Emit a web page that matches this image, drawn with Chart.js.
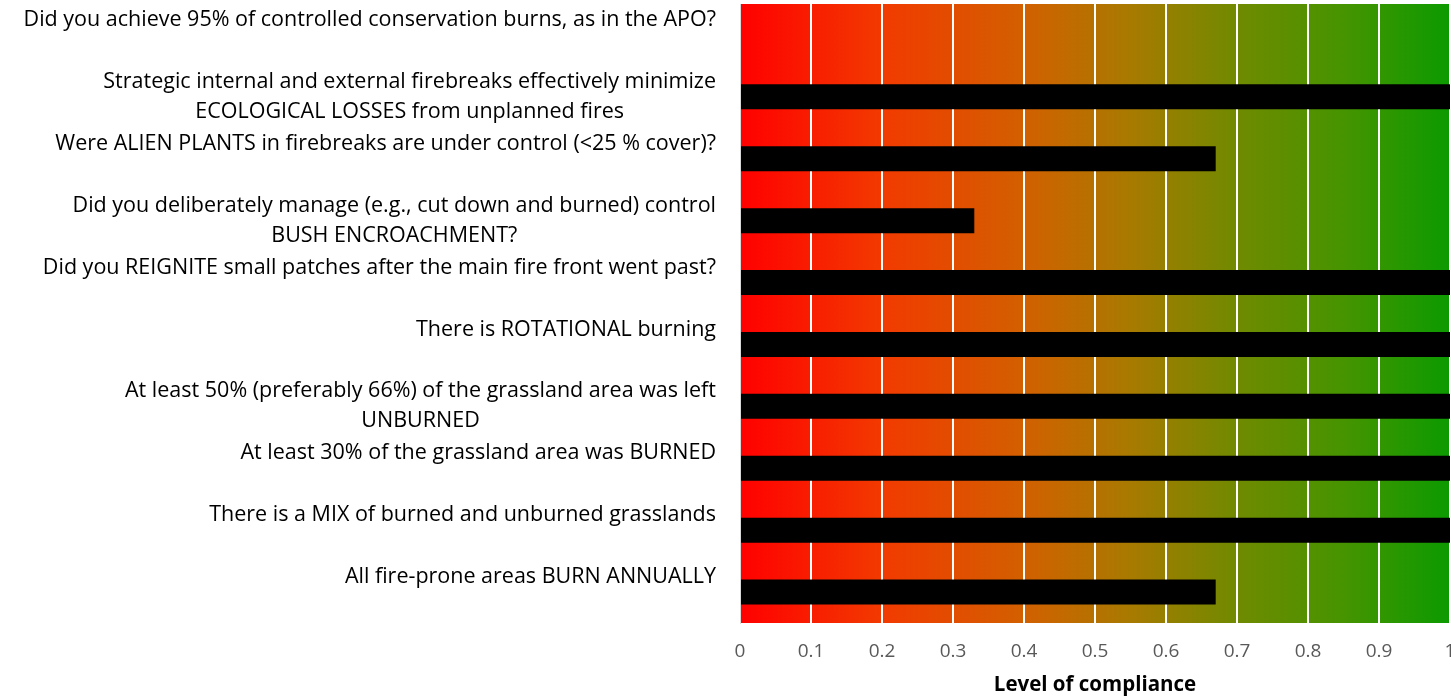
<!DOCTYPE html>
<html>
<head>
<meta charset="utf-8">
<script src="https://cdn.jsdelivr.net/npm/chart.js@4.4.1/dist/chart.umd.min.js"></script>
<style>
html, body { margin: 0; padding: 0; background: #fff; }
#wrap { width: 1451px; height: 698px; }
</style>
</head>
<body>
<div id="wrap"><canvas id="myChart"></canvas></div>
<script>
// categories (one line labels get an empty 2nd line, like the original)
const questions = [
    ["Did you achieve 95% of controlled conservation burns, as in the APO?", ""],
    ["Strategic internal and external firebreaks effectively minimize", "ECOLOGICAL LOSSES from unplanned fires"],
    ["Were ALIEN PLANTS in firebreaks are under control (<25 % cover)?", ""],
    ["Did you deliberately manage (e.g., cut down and burned) control", "BUSH ENCROACHMENT?"],
    ["Did you REIGNITE small patches after the main fire front went past?", ""],
    ["There is ROTATIONAL burning", ""],
    ["At least 50% (preferably 66%) of the grassland area was left", "UNBURNED"],
    ["At least 30% of the grassland area was BURNED", ""],
    ["There is a MIX of burned and unburned grasslands", ""],
    ["All fire-prone areas BURN ANNUALLY", ""]
];
const compliance = [0, 1, 0.67, 0.33, 1, 1, 1, 1, 1, 0.67];
const xMin = 0;
const xMax = 1;
const xStep = 0.1;
const xTitle = "Level of compliance";

const labelFont = '21.5px "Open Sans"';

// red -> green background behind the bars
const gradientBg = {
    id: 'gradientBg',
    beforeDraw(chart) {
        const {ctx, chartArea: a} = chart;
        const g = ctx.createLinearGradient(a.left, 0, a.right, 0);
        g.addColorStop(0, '#ff0000');
        g.addColorStop(0.2, '#f23a00');
        g.addColorStop(0.4, '#d26000');
        g.addColorStop(0.55, '#a87a00');
        g.addColorStop(0.7, '#708a00');
        g.addColorStop(0.85, '#469400');
        g.addColorStop(1, '#0c9a00');
        ctx.save();
        ctx.fillStyle = g;
        ctx.fillRect(a.left, a.top, a.right - a.left, a.bottom - a.top);
        ctx.restore();
    }
};

// y labels: block right aligned, lines centred on each other
const questionLabels = {
    id: 'questionLabels',
    afterDraw(chart) {
        const {ctx} = chart;
        const y = chart.scales.y;
        ctx.save();
        ctx.font = labelFont;
        ctx.fillStyle = '#000';
        ctx.textAlign = 'center';
        ctx.textBaseline = 'middle';
        questions.forEach((lines, i) => {
            const yc = y.getPixelForValue(i);
            const w = Math.max(...lines.map(l => ctx.measureText(l).width));
            const cx = y.right - 24 - w / 2;
            lines.forEach((line, j) => {
                ctx.fillText(line, cx, yc + (j - (lines.length - 1) / 2) * 30);
            });
        });
        ctx.restore();
    }
};

const ctx = document.getElementById('myChart').getContext('2d');
const myChart = new Chart(ctx, {
    type: 'bar',
    data: {
        labels: questions,
        datasets: [{
            data: compliance,
            backgroundColor: '#000',
            borderWidth: 0,
            inflateAmount: 0,
            barThickness: 25
        }]
    },
    options: {
        indexAxis: 'y',
        responsive: true,
        maintainAspectRatio: false,
        animation: false,
        layout: { padding: { top: 4, right: 1, left: 0, bottom: 0 } },
        plugins: { legend: { display: false }, tooltip: { enabled: false } },
        scales: {
            x: {
                min: xMin,
                max: xMax,
                grid: { color: '#ffffff', lineWidth: 2, drawTicks: false },
                border: { display: false },
                ticks: {
                    stepSize: xStep,
                    maxRotation: 0,
                    autoSkip: false,
                    padding: 17,
                    color: '#595959',
                    font: { family: 'Open Sans', size: 19 },
                    callback: v => String(+v.toFixed(1))
                },
                title: {
                    display: true,
                    text: xTitle,
                    color: '#000',
                    font: { family: 'Open Sans', size: 20.5, weight: 'bold' },
                    padding: { top: 0, bottom: 1 }
                },
                afterFit(scale) {
                    scale.height = 75;
                    scale.paddingLeft = 0;
                    scale.paddingRight = 0;
                }
            },
            y: {
                grid: { display: false },
                border: { color: '#d9d9d9', width: 1 },
                ticks: { display: false },
                afterFit(scale) {
                    scale.width = 740;
                }
            }
        }
    },
    plugins: [gradientBg, questionLabels]
});
</script>
</body>
</html>
